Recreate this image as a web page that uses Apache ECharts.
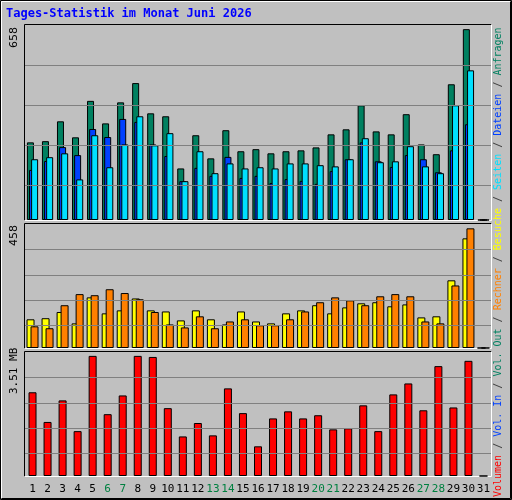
<!DOCTYPE html>
<html><head><meta charset="utf-8">
<script src="https://cdn.jsdelivr.net/npm/echarts@6/dist/echarts.min.js"></script>
<style>html,body{margin:0;padding:0;background:#C0C0C0}#c{width:512px;height:500px}</style>
</head><body><div id="c"></div>
<script>
var days = [];
for (var i = 1; i <= 31; i++) days.push(String(i));
var weekendDays = ['6','7','13','14','20','21','27','28'];
var anfragen = [262,266,333,279,402,326,397,462,360,350,174,286,208,303,232,239,225,232,235,245,289,306,387,299,289,357,255,222,458,644,0];
var dateien  = [169,199,246,219,307,280,341,331,255,216,131,176,149,213,142,149,125,138,132,122,165,205,262,198,179,219,205,161,235,323,0];
var seiten   = [205,212,225,137,286,178,255,350,252,293,131,232,158,191,174,178,174,191,191,185,181,205,276,195,198,249,181,158,387,505,0];
var besuche  = [106,110,133,91,187,128,139,183,139,135,102,139,106,87,135,98,91,128,139,158,128,150,165,169,154,161,113,117,250,405,0];
var rechner  = [80,73,158,199,195,217,203,180,133,87,76,117,73,98,106,84,84,106,135,169,187,176,158,191,199,191,98,91,231,442,0];
var volumenMB = [2.37,1.53,2.14,1.27,3.40,1.75,2.28,3.40,3.37,1.92,1.12,1.50,1.15,2.48,1.78,0.84,1.63,1.83,1.63,1.72,1.32,1.35,2.00,1.27,2.31,2.62,1.86,3.11,1.94,3.26,0];
var maxHits = 658, maxVisits = 458, maxVol = 3.51;
var gridFrac = [0.795, 0.59, 0.385, 0.18];

var chart = echarts.init(document.getElementById('c'), null, {renderer:'canvas'});
var mono = 'DejaVu Sans Mono';
function gl(max){ return {silent:true, symbol:'none', label:{show:false}, lineStyle:{color:'#808080', type:'solid', width:1},
  data: gridFrac.map(function(f){return {yAxis: f*max};})}; }
var grids = [
  {left:25, right:21, top:25, height:195},
  {left:25, right:21, top:224, height:124},
  {left:25, right:21, top:352, height:124}
];
function xa(i, show){ return {type:'category', gridIndex:i, data:days, boundaryGap:true,
  axisLine:{show:false}, axisTick:{show:false},
  axisLabel:{show:show, margin:8, fontFamily:mono, fontSize:11, interval:0,
    formatter:function(v){ return weekendDays.indexOf(v)>=0 ? '{w|'+v+'}' : '{n|'+v+'}'; },
    rich:{n:{color:'#000', fontFamily:mono, fontSize:11}, w:{color:'#008040', fontFamily:mono, fontSize:11}}},
  splitLine:{show:false}}; }
function ya(i, max){ return {type:'value', gridIndex:i, min:0, max:max, axisLabel:{show:false}, axisLine:{show:false}, axisTick:{show:false}, splitLine:{show:false}}; }
var bs = {borderColor:'#000', borderWidth:1};
chart.setOption({
  animation:false,
  backgroundColor:'#C0C0C0',
  grid: grids.map(function(g){ return Object.assign({show:true, backgroundColor:'#C0C0C0', borderWidth:0}, g); }),
  xAxis:[xa(0,false), xa(1,false), xa(2,true)],
  yAxis:[ya(0,maxHits), ya(1,maxVisits), ya(2,maxVol)],
  series:[
    {type:'bar', xAxisIndex:0, yAxisIndex:0, data:anfragen, barWidth:7, barGap:'-70%', itemStyle:Object.assign({color:'#008060'},bs), markLine:gl(maxHits), z:2},
    {type:'bar', xAxisIndex:0, yAxisIndex:0, data:dateien, barWidth:7, barGap:'-70%', itemStyle:Object.assign({color:'#0040FF'},bs), z:3},
    {type:'bar', xAxisIndex:0, yAxisIndex:0, data:seiten, barWidth:7, barGap:'-70%', itemStyle:Object.assign({color:'#00E0FF'},bs), z:4},
    {type:'bar', xAxisIndex:1, yAxisIndex:1, data:besuche, barWidth:8, barGap:'-50%', itemStyle:Object.assign({color:'#FFFF00'},bs), markLine:gl(maxVisits), z:2},
    {type:'bar', xAxisIndex:1, yAxisIndex:1, data:rechner, barWidth:8, barGap:'-50%', itemStyle:Object.assign({color:'#FF8000'},bs), z:3},
    {type:'bar', xAxisIndex:2, yAxisIndex:2, data:volumenMB, barWidth:8, itemStyle:Object.assign({color:'#FF0000'},bs), markLine:gl(maxVol), z:2}
  ],
  graphic:[
    {type:'text', left:6, top:8, style:{text:'Tages-Statistik im Monat Juni 2026', fill:'#0000FF', font:'bold 12px "DejaVu Sans Mono"'}},
    {type:'text', x:9, y:48, rotation:Math.PI/2, style:{text:'658', fill:'#000', font:'11px "DejaVu Sans"'}},
    {type:'text', x:9, y:246, rotation:Math.PI/2, style:{text:'458', fill:'#000', font:'11px "DejaVu Sans"'}},
    {type:'text', x:9, y:394, rotation:Math.PI/2, style:{text:'3.51 MB', fill:'#000', font:'11px "DejaVu Sans Mono"'}},
    {type:'text', x:493, y:497, rotation:Math.PI/2, style:{
      text:'{r|Volumen}{s| / }{b|Vol. In}{s| / }{g|Vol. Out}{s| / }{o|Rechner}{s| / }{y|Besuche}{s| / }{c|Seiten}{s| / }{bl|Dateien}{s| / }{g|Anfragen}',
      font:'10px "DejaVu Sans Mono"',
      rich:{r:{fill:'#FF0000',font:'10px "DejaVu Sans Mono"'}, b:{fill:'#0040FF',font:'10px "DejaVu Sans Mono"'}, g:{fill:'#008060',font:'10px "DejaVu Sans Mono"'},
        o:{fill:'#FF8000',font:'10px "DejaVu Sans Mono"'}, y:{fill:'#FFFF00',font:'10px "DejaVu Sans Mono"'}, c:{fill:'#00E0FF',font:'10px "DejaVu Sans Mono"'},
        bl:{fill:'#0040FF',font:'10px "DejaVu Sans Mono"'}, s:{fill:'#404040',font:'10px "DejaVu Sans Mono"'}}}},
    // panel bevels
    {type:'polyline', shape:{points:[[24.5,220.5],[24.5,24.5],[491.5,24.5]]}, style:{stroke:'#000',fill:null,lineWidth:1}},
    {type:'polyline', shape:{points:[[24.5,220.5],[491.5,220.5],[491.5,24.5]]}, style:{stroke:'#fff',fill:null,lineWidth:1}},
    {type:'polyline', shape:{points:[[24.5,348.5],[24.5,223.5],[491.5,223.5]]}, style:{stroke:'#000',fill:null,lineWidth:1}},
    {type:'polyline', shape:{points:[[24.5,348.5],[491.5,348.5],[491.5,223.5]]}, style:{stroke:'#fff',fill:null,lineWidth:1}},
    {type:'polyline', shape:{points:[[24.5,476.5],[24.5,351.5],[491.5,351.5]]}, style:{stroke:'#000',fill:null,lineWidth:1}},
    {type:'polyline', shape:{points:[[24.5,476.5],[491.5,476.5],[491.5,351.5]]}, style:{stroke:'#fff',fill:null,lineWidth:1}},
    // outer frame
    {type:'polyline', shape:{points:[[1.5,498.5],[1.5,1.5],[510.5,1.5]]}, style:{stroke:'#fff',fill:null,lineWidth:1}},
    {type:'polyline', shape:{points:[[1.5,498.5],[510.5,498.5],[510.5,1.5]]}, style:{stroke:'#000',fill:null,lineWidth:1}},
    {type:'rect', shape:{x:0.5,y:0.5,width:511,height:499}, style:{stroke:'#000',fill:null,lineWidth:1}}
  ]
});
</script></body></html>
